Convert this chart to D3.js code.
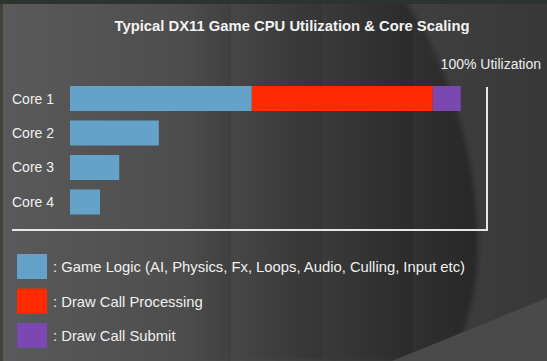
<!DOCTYPE html>
<html>
<head>
<meta charset="utf-8">
<script src="https://cdn.jsdelivr.net/npm/d3@7"></script>
<style>
  html, body { margin: 0; padding: 0; background: #3a3a3a; }
  svg { display: block; font-family: "Liberation Sans", Arial, sans-serif; }
</style>
</head>
<body>
<svg width="547" height="361"></svg>
<script>
// values, in % of one core
var cores = ["Core 1", "Core 2", "Core 3", "Core 4"];
var gameLogic = [43.6, 21.3, 11.8, 7.2];
var drawProcessing = [43.4, 0, 0, 0];
var drawSubmit = [6.7, 0, 0, 0];
var seriesNames = [
  ": Game Logic (AI, Physics, Fx, Loops, Audio, Culling, Input etc)",
  ": Draw Call Processing",
  ": Draw Call Submit"
];
var seriesColors = ["#64a2c9", "#ff2a00", "#7a48b0"];

var svg = d3.select("svg"),
    width = +svg.attr("width"),
    height = +svg.attr("height");

// background, roughly like the slide photo
var defs = svg.append("defs");
var lg = defs.append("linearGradient").attr("id", "bg")
    .attr("x1", 0).attr("y1", 0).attr("x2", 1).attr("y2", 0);
lg.append("stop").attr("offset", "0%").attr("stop-color", "#5a5a5a");
lg.append("stop").attr("offset", "50%").attr("stop-color", "#474747");
lg.append("stop").attr("offset", "100%").attr("stop-color", "#383838");
var dg = defs.append("linearGradient").attr("id", "dark")
    .attr("gradientUnits", "userSpaceOnUse")
    .attr("x1", 180).attr("y1", 0).attr("x2", 470).attr("y2", 0);
dg.append("stop").attr("offset", "0%").attr("stop-color", "#222").attr("stop-opacity", 0);
dg.append("stop").attr("offset", "100%").attr("stop-color", "#222").attr("stop-opacity", 0.75);
var blur = defs.append("filter").attr("id", "soft");
blur.append("feGaussianBlur").attr("stdDeviation", 2);

svg.append("rect").attr("width", width).attr("height", height).attr("fill", "url(#bg)");
// dark round shape behind the chart
svg.append("path")
    .attr("d", "M180,0 L405,0 C465,90 490,220 472,300 C465,330 458,348 452,361 L180,361 Z")
    .attr("fill", "url(#dark)").attr("filter", "url(#soft)");
// lighter wedge bottom right
svg.append("path")
    .attr("d", "M392,361 L547,298 L547,361 Z")
    .attr("fill", "#4a4a4a");
// top strip and left edge
svg.append("rect").attr("width", width).attr("height", 4).attr("fill", "#2a3530");
svg.append("rect").attr("y", 4).attr("width", 3).attr("height", height).attr("fill", "#3c4438");

var x = d3.scaleLinear().domain([0, 100]).range([70, 487]);
var y = d3.scaleBand().domain(cores).range([86, 214.5]).paddingInner(0.275);

svg.append("text")
    .attr("x", 292).attr("y", 31)
    .attr("text-anchor", "middle")
    .attr("font-size", 14.8).attr("font-weight", "bold")
    .attr("fill", "#f2f2f2")
    .text("Typical DX11 Game CPU Utilization & Core Scaling");

svg.append("text")
    .attr("x", 541).attr("y", 69)
    .attr("text-anchor", "end")
    .attr("font-size", 14).attr("fill", "#eeeeee")
    .text("100% Utilization");

// stacked bars
var rows = cores.map(function(c, i) {
  return { core: c, game: gameLogic[i], proc: drawProcessing[i], submit: drawSubmit[i] };
});
var stack = d3.stack().keys(["game", "proc", "submit"])(rows);

svg.append("g").selectAll("g")
  .data(stack)
  .enter().append("g")
    .attr("fill", function(d, i) { return seriesColors[i]; })
  .selectAll("rect")
  .data(function(d) { return d.filter(function(p) { return p[1] > p[0]; }); })
  .enter().append("rect")
    .attr("x", function(d) { return x(d[0]); })
    .attr("y", function(d) { return y(d.data.core); })
    .attr("width", function(d) { return x(d[1]) - x(d[0]); })
    .attr("height", y.bandwidth());

// core labels
svg.append("g").selectAll("text")
  .data(cores)
  .enter().append("text")
    .attr("x", 12)
    .attr("y", function(d) { return y(d) + y.bandwidth() / 2 + 5; })
    .attr("font-size", 14).attr("fill", "#f0f0f0")
    .text(function(d) { return d; });

// 100% line and base line
svg.append("path")
    .attr("d", "M" + x(100) + ",87 V230 H12")
    .attr("fill", "none").attr("stroke", "#e6e6e6").attr("stroke-width", 2);

// legend
var leg = svg.append("g").selectAll("g")
  .data(seriesNames)
  .enter().append("g")
    .attr("transform", function(d, i) { return "translate(17," + (254 + i * 34.5) + ")"; });
leg.append("rect")
    .attr("width", 30).attr("height", 25)
    .attr("fill", function(d, i) { return seriesColors[i]; });
leg.append("text")
    .attr("x", 36).attr("y", 18)
    .attr("font-size", 14.8).attr("fill", "#f0f0f0")
    .text(function(d) { return d; });
</script>
</body>
</html>
